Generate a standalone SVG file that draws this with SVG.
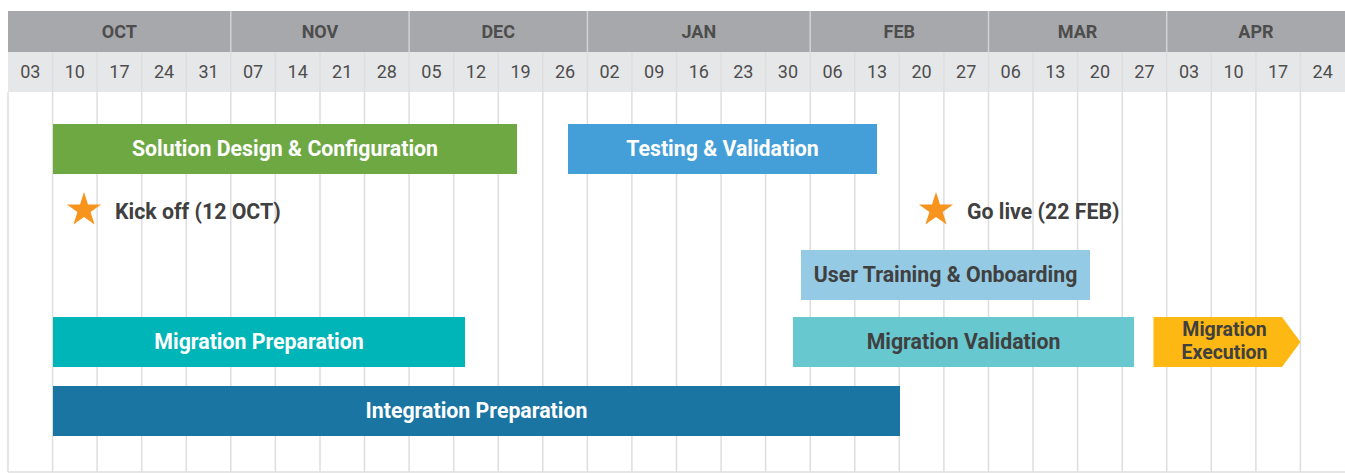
<svg xmlns="http://www.w3.org/2000/svg" width="1345" height="473" viewBox="0 0 1345 473">
<style>
.mon{font-family:Roboto,"Liberation Sans",sans-serif;font-weight:bold;font-size:18px;fill:#4d4d4d;text-anchor:middle}
.wk{font-family:Roboto,"Liberation Sans",sans-serif;font-size:18px;fill:#4d4d4d;text-anchor:middle}
.grid{stroke:#dedede;stroke-width:1.5}
.hsep{stroke:#d2d2d4;stroke-width:1.5}
.lbl{font-family:Roboto,"Liberation Sans",sans-serif;font-weight:bold;font-size:21.3px;text-anchor:middle}
.w{fill:#ffffff}
.d{fill:#404040}
.ex{font-size:19.5px}
.ms{font-family:Roboto,"Liberation Sans",sans-serif;font-weight:bold;font-size:21.3px;fill:#404040}
</style>
<defs>
<polygon id="star" points="0,-18 4,-5.5 17.1,-5.6 6.6,2.1 10.6,14.6 0,6.9 -10.6,14.6 -6.6,2.1 -17.1,-5.6 -4,-5.5" fill="#f7941d"/>
</defs>
<rect width="1345" height="473" fill="#ffffff"/>
<g id="grid">
<rect x="8" y="11" width="1337" height="41" fill="#a7a8ab"/>
<rect x="8" y="52" width="1337" height="40" fill="#e6e7e9"/>
<g class="grid">
<line x1="8" y1="92" x2="8" y2="472"/>
<line x1="52.6" y1="52" x2="52.6" y2="472"/>
<line x1="97.1" y1="52" x2="97.1" y2="472"/>
<line x1="141.7" y1="52" x2="141.7" y2="472"/>
<line x1="186.3" y1="52" x2="186.3" y2="472"/>
<line x1="230.8" y1="52" x2="230.8" y2="472"/>
<line x1="275.4" y1="52" x2="275.4" y2="472"/>
<line x1="320" y1="52" x2="320" y2="472"/>
<line x1="364.5" y1="52" x2="364.5" y2="472"/>
<line x1="409.1" y1="52" x2="409.1" y2="472"/>
<line x1="453.7" y1="52" x2="453.7" y2="472"/>
<line x1="498.2" y1="52" x2="498.2" y2="472"/>
<line x1="542.8" y1="52" x2="542.8" y2="472"/>
<line x1="587.4" y1="52" x2="587.4" y2="472"/>
<line x1="631.9" y1="52" x2="631.9" y2="472"/>
<line x1="676.5" y1="52" x2="676.5" y2="472"/>
<line x1="721.1" y1="52" x2="721.1" y2="472"/>
<line x1="765.6" y1="52" x2="765.6" y2="472"/>
<line x1="810.2" y1="52" x2="810.2" y2="472"/>
<line x1="854.8" y1="52" x2="854.8" y2="472"/>
<line x1="899.3" y1="52" x2="899.3" y2="472"/>
<line x1="943.9" y1="52" x2="943.9" y2="472"/>
<line x1="988.5" y1="52" x2="988.5" y2="472"/>
<line x1="1033" y1="52" x2="1033" y2="472"/>
<line x1="1077.6" y1="52" x2="1077.6" y2="472"/>
<line x1="1122.2" y1="52" x2="1122.2" y2="472"/>
<line x1="1166.7" y1="52" x2="1166.7" y2="472"/>
<line x1="1211.3" y1="52" x2="1211.3" y2="472"/>
<line x1="1255.9" y1="52" x2="1255.9" y2="472"/>
<line x1="1300.4" y1="52" x2="1300.4" y2="472"/>
<line x1="8" y1="472" x2="1345" y2="472"/>
</g>
<g class="hsep">
<line x1="230.8" y1="11" x2="230.8" y2="52"/>
<line x1="409.1" y1="11" x2="409.1" y2="52"/>
<line x1="587.4" y1="11" x2="587.4" y2="52"/>
<line x1="810.2" y1="11" x2="810.2" y2="52"/>
<line x1="988.5" y1="11" x2="988.5" y2="52"/>
<line x1="1166.7" y1="11" x2="1166.7" y2="52"/>
</g>
<g class="mon">
<text x="119.4" y="38">OCT</text>
<text x="320" y="38">NOV</text>
<text x="498.2" y="38">DEC</text>
<text x="698.8" y="38">JAN</text>
<text x="899.3" y="38">FEB</text>
<text x="1077.6" y="38">MAR</text>
<text x="1255.9" y="38">APR</text>
</g>
<g class="wk">
<text x="30.3" y="78">03</text>
<text x="74.8" y="78">10</text>
<text x="119.4" y="78">17</text>
<text x="164" y="78">24</text>
<text x="208.5" y="78">31</text>
<text x="253.1" y="78">07</text>
<text x="297.7" y="78">14</text>
<text x="342.2" y="78">21</text>
<text x="386.8" y="78">28</text>
<text x="431.4" y="78">05</text>
<text x="475.9" y="78">12</text>
<text x="520.5" y="78">19</text>
<text x="565.1" y="78">26</text>
<text x="609.6" y="78">02</text>
<text x="654.2" y="78">09</text>
<text x="698.8" y="78">16</text>
<text x="743.3" y="78">23</text>
<text x="787.9" y="78">30</text>
<text x="832.5" y="78">06</text>
<text x="877" y="78">13</text>
<text x="921.6" y="78">20</text>
<text x="966.2" y="78">27</text>
<text x="1010.7" y="78">06</text>
<text x="1055.3" y="78">13</text>
<text x="1099.9" y="78">20</text>
<text x="1144.4" y="78">27</text>
<text x="1189" y="78">03</text>
<text x="1233.6" y="78">10</text>
<text x="1278.1" y="78">17</text>
<text x="1322.7" y="78">24</text>
</g>
</g>
<g id="solution-design">
<rect x="53" y="124" width="464" height="50" fill="#6ea843"/>
<text class="lbl w" x="285" y="156">Solution Design &amp; Configuration</text>
</g>
<g id="testing">
<rect x="568" y="124" width="309" height="50" fill="#449fd8"/>
<text class="lbl w" x="722.5" y="156">Testing &amp; Validation</text>
</g>
<g id="kickoff">
<use href="#star" x="84" y="210"/>
<text class="ms" x="115" y="219">Kick off (12 OCT)</text>
</g>
<g id="golive">
<use href="#star" x="936" y="210"/>
<text class="ms" x="967" y="219">Go live (22 FEB)</text>
</g>
<g id="user-training">
<rect x="801" y="250" width="289" height="50" fill="#95cae4"/>
<text class="lbl d" x="945.5" y="282">User Training &amp; Onboarding</text>
</g>
<g id="migration-preparation">
<rect x="53" y="317" width="412" height="50" fill="#00b5b8"/>
<text class="lbl w" x="259" y="349">Migration Preparation</text>
</g>
<g id="migration-validation">
<rect x="793" y="317" width="341" height="50" fill="#68c8d0"/>
<text class="lbl d" x="963.5" y="349">Migration Validation</text>
</g>
<g id="migration-execution">
<polygon points="1153.5,317 1282,317 1300.5,342 1282,367 1153.5,367" fill="#fdb813"/>
<text class="lbl d ex" x="1224.5" y="335.5">Migration</text>
<text class="lbl d ex" x="1224.5" y="358.5">Execution</text>
</g>
<g id="integration-preparation">
<rect x="53" y="386" width="847" height="50" fill="#1a75a3"/>
<text class="lbl w" x="476.5" y="418">Integration Preparation</text>
</g>
<g id="connectors"/>
</svg>
